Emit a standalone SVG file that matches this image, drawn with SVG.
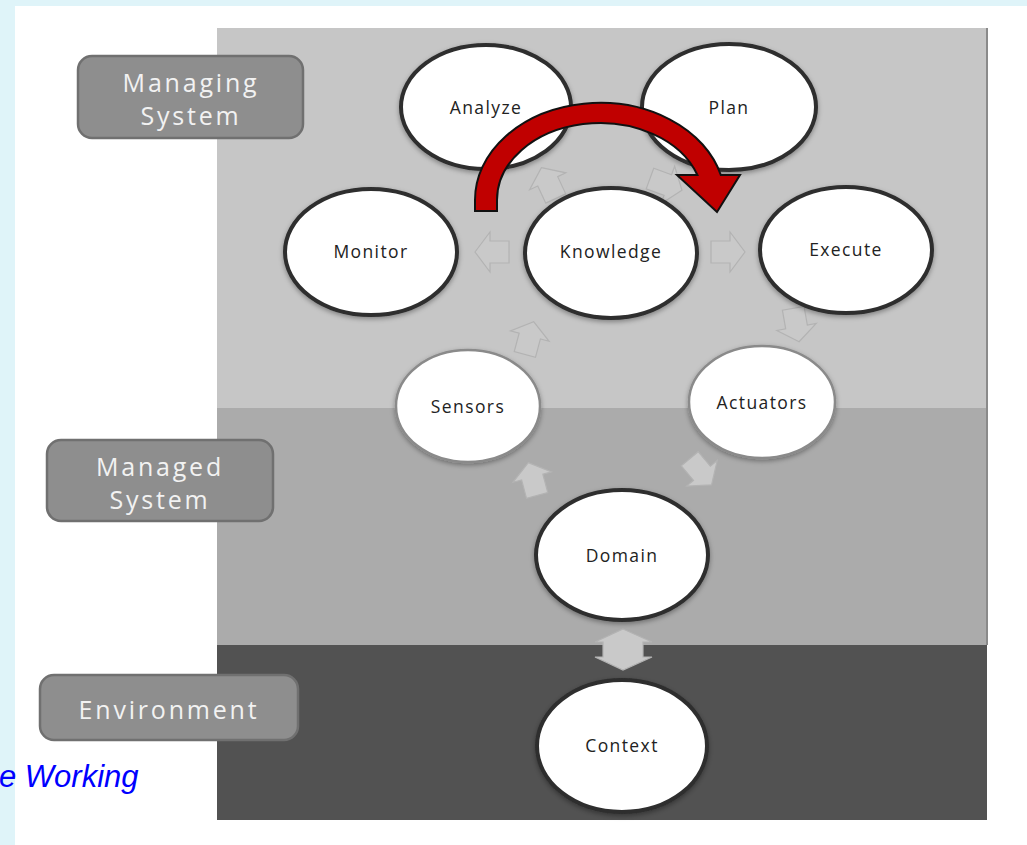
<svg xmlns="http://www.w3.org/2000/svg" width="1027" height="845" viewBox="0 0 1027 845">
<style>
.lbl{fill:#8e8e8e;stroke:#707070;stroke-width:2.5}
.lt{font-family:"Open Sans","DejaVu Sans",sans-serif;font-size:25px;fill:#f2f2f2;letter-spacing:2.8px;text-anchor:middle}
.nd{fill:#ffffff;stroke:#2e2e2e;stroke-width:4}
.nt{font-family:"Open Sans","DejaVu Sans",sans-serif;font-size:17.5px;fill:#222;letter-spacing:1.4px;text-anchor:middle}
.ga{fill:#c9c9c9;stroke:#b3b3b3;stroke-width:1.2}
</style>
<defs>
<filter id="sh" x="-20%" y="-20%" width="140%" height="140%">
<feDropShadow dx="0" dy="2" stdDeviation="2.5" flood-color="#000" flood-opacity="0.35"/>
</filter>
<path id="ba" d="M0,-18 L20,-3 L11,-3 L11,16 L-11,16 L-11,-3 L-20,-3 Z"/>
</defs>
<rect x="0" y="0" width="1027" height="845" fill="#dff4f9"/>
<rect x="15" y="6" width="1012" height="839" fill="#ffffff"/>
<g id="panel">
<rect x="217" y="28" width="770" height="380" fill="#c6c6c6"/>
<rect x="217" y="408" width="770" height="237" fill="#ababab"/>
<rect x="217" y="645" width="770" height="175" fill="#525252"/>
<line x1="987" y1="28" x2="987" y2="645" stroke="#8a8a8a" stroke-width="2"/>
</g>
<g id="label-managing">
<rect class="lbl" x="78" y="56" width="225" height="82" rx="14"/>
<text class="lt" x="191" y="92">Managing</text>
<text class="lt" x="191" y="125">System</text>
</g>
<g id="label-managed">
<rect class="lbl" x="47" y="440" width="226" height="81" rx="14"/>
<text class="lt" x="160" y="476">Managed</text>
<text class="lt" x="160" y="509">System</text>
</g>
<g id="label-environment">
<rect class="lbl" x="40" y="675" width="258" height="65" rx="14"/>
<text class="lt" x="169" y="719">Environment</text>
</g>
<text x="-1" y="787" font-family="Liberation Sans,Arial,sans-serif" font-style="italic" font-size="31" fill="#0000ff">e Working</text>
<g id="connectors">
<use href="#ba" class="ga" transform="translate(549,184) rotate(-25)"/>
<use href="#ba" class="ga" transform="translate(665,184) rotate(110)"/>
<use href="#ba" class="ga" transform="translate(493,252) rotate(-90)"/>
<use href="#ba" class="ga" transform="translate(727,252) rotate(90)"/>
<use href="#ba" class="ga" transform="translate(529,339) rotate(15)"/>
<use href="#ba" class="ga" transform="translate(796,324) rotate(170)"/>
<use href="#ba" class="ga" transform="translate(700,471) rotate(140)"/>
<use href="#ba" class="ga" transform="translate(533,480) rotate(-15)"/>
<path class="ga" d="M623,629 L652,642 L643,642 L643,657 L652,657 L623,670 L595,657 L603,657 L603,642 L595,642 Z"/>
</g>
<g id="analyze"><ellipse class="nd" filter="url(#sh)" cx="486" cy="107" rx="85" ry="62"/><text class="nt" x="486" y="114">Analyze</text></g>
<g id="plan"><ellipse class="nd" filter="url(#sh)" cx="729" cy="107" rx="87" ry="63"/><text class="nt" x="729" y="114">Plan</text></g>
<g id="monitor"><ellipse class="nd" filter="url(#sh)" cx="371" cy="252" rx="86" ry="63"/><text class="nt" x="371" y="258">Monitor</text></g>
<g id="knowledge"><ellipse class="nd" filter="url(#sh)" cx="611" cy="253" rx="86" ry="65"/><text class="nt" x="611" y="258">Knowledge</text></g>
<g id="execute"><ellipse class="nd" filter="url(#sh)" cx="846" cy="250" rx="86" ry="63"/><text class="nt" x="846" y="256">Execute</text></g>
<g id="sensors"><ellipse class="nd" style="stroke:#8a8a8a;stroke-width:2.5" filter="url(#sh)" cx="468" cy="406" rx="72" ry="56"/><text class="nt" x="468" y="413">Sensors</text></g>
<g id="actuators"><ellipse class="nd" style="stroke:#8a8a8a;stroke-width:2.5" filter="url(#sh)" cx="762" cy="402" rx="73" ry="56"/><text class="nt" x="762" y="409">Actuators</text></g>
<g id="domain"><ellipse class="nd" filter="url(#sh)" cx="622" cy="555" rx="86" ry="65"/><text class="nt" x="622" y="562">Domain</text></g>
<g id="context"><ellipse class="nd" filter="url(#sh)" cx="622" cy="746" rx="85" ry="66"/><text class="nt" x="622" y="752">Context</text></g>
<g id="loop-arrow">
<path d="M475,211 L475,200 A125,97 0 0 1 720.8,175 L740,175 L717,212 L677,175 L697.4,175 A103,77 0 0 0 497,200 L497,211 Z" fill="#c00000" stroke="#111" stroke-width="2" stroke-linejoin="miter"/>
</g>
</svg>
